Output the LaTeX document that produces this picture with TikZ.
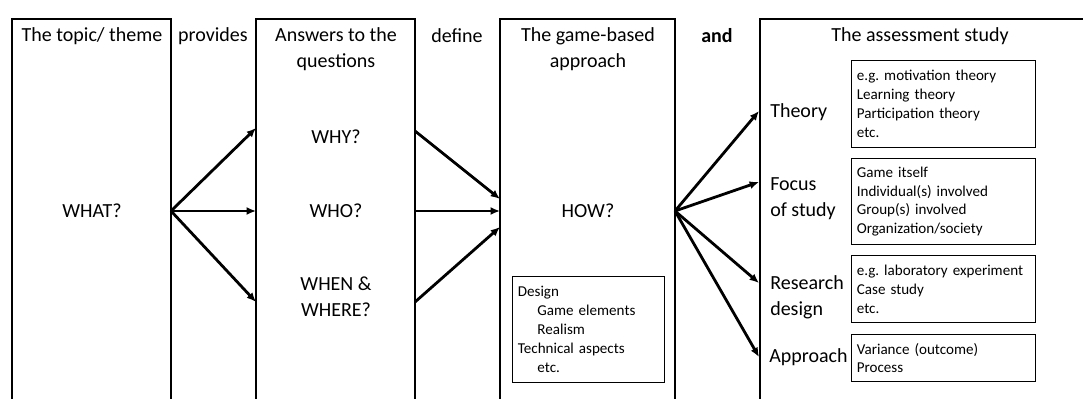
\documentclass[tikz,border=0pt]{standalone}
\usepackage{fontspec}
\setmainfont{Carlito}
\usetikzlibrary{arrows.meta,positioning}
\definecolor{inkline}{HTML}{000000}

\begin{document}
\frenchspacing
\begin{tikzpicture}[x=0.75pt,y=-0.75pt,
    frame/.style={draw=inkline,line width=2.2pt},
    heading/.style={font=\fontsize{15}{19.5}\selectfont,align=center,inner sep=0pt},
    aspect/.style={font=\fontsize{15}{19.5}\selectfont,align=left,anchor=west,inner sep=0pt},
    detail/.style={draw=inkline,line width=0.8pt,font=\fontsize{11.3}{14.2}\selectfont,
      align=left,anchor=north west,inner xsep=4pt,inner ysep=0pt},
    flow/.style={-{Latex[length=7pt,width=6pt]},line width=2.1pt,draw=inkline}]
  \useasboundingbox (0,0) rectangle (1083,399);

  % the four columns, open at the bottom
  \draw[frame] (12,405) |- (171,19) -- (171,405);
  \draw[frame] (256,405) |- (415,19) -- (415,405);
  \draw[frame] (500,405) |- (675,19) -- (675,405);
  \draw[frame] (760,405) |- (1090,19);

  % column heads and linking words
  \node[heading] (topic) at (92,36) {The topic/ theme};
  \node[heading] (provides) at (213,36) {provides};
  \node[heading] (answers) at (336,49) {Answers to the\\questions};
  \node[heading] (define) at (457,36) {define};
  \node[heading] (approachhead) at (588,49) {The game-based\\approach};
  \node[heading,font=\fontsize{15}{19.5}\selectfont\bfseries] (and) at (717,36) {and};
  \node[heading] (study) at (920,36) {The assessment study};

  % questions
  \node[heading] (what) at (92,211) {WHAT?};
  \node[heading] (why) at (336,137) {WHY?};
  \node[heading] (who) at (336,211) {WHO?};
  \node[heading] (whenwhere) at (336,297) {WHEN \&\\WHERE?};
  \node[heading] (how) at (588,211) {HOW?};

  \node[detail,minimum width=114pt,minimum height=79.5pt,text width=106pt] (design) at (512,276)
    {Design\\\hspace*{1.3em}Game elements\\\hspace*{1.3em}Realism\\Technical aspects\\\hspace*{1.3em}etc.};

  % assessment study aspects
  \node[aspect] (theory) at (770,112) {Theory};
  \node[aspect] (focus) at (770,199) {Focus\\of study};
  \node[aspect] (research) at (770,297) {Research\\design};
  \node[aspect] (approach) at (769,357) {Approach};

  \node[detail,minimum width=138pt,minimum height=65.25pt,text width=130pt] (theorybox) at (851,60)
    {e.g. motivation theory\\Learning theory\\Participation theory\\etc.};
  \node[detail,minimum width=138pt,minimum height=64.5pt,text width=130pt] (focusbox) at (851,158)
    {Game itself\\Individual(s) involved\\Group(s) involved\\Organization/society};
  \node[detail,minimum width=138pt,minimum height=50.25pt,text width=130pt] (researchbox) at (851,255)
    {e.g. laboratory experiment\\Case study\\etc.};
  \node[detail,minimum width=138pt,minimum height=35.25pt,text width=130pt] (approachbox) at (851,334)
    {Variance (outcome)\\Process};

  % arrow ends on the column sides
  \coordinate (whatout) at (171,211);
  \coordinate (whyin) at (256,128);
  \coordinate (whoin) at (256,211);
  \coordinate (wherein) at (256,302);
  \coordinate (whyout) at (415,131);
  \coordinate (whoout) at (415,211);
  \coordinate (whereout) at (415,302);
  \coordinate (howin1) at (500,199);
  \coordinate (howin2) at (500,211);
  \coordinate (howin3) at (500,227);
  \coordinate (howout) at (675,211);
  \coordinate (theoryin) at (759,111);
  \coordinate (focusin) at (759,182);
  \coordinate (researchin) at (759,283);
  \coordinate (approachin) at (759,357);

  \draw[flow] (whatout) -- (whyin);
  \draw[flow] (whatout) -- (whoin);
  \draw[flow] (whatout) -- (wherein);
  \draw[flow] (whyout) -- (howin1);
  \draw[flow] (whoout) -- (howin2);
  \draw[flow] (whereout) -- (howin3);
  \foreach \target in {theoryin,focusin,researchin,approachin}
    \draw[flow] (howout) -- (\target);
\end{tikzpicture}
\end{document}
